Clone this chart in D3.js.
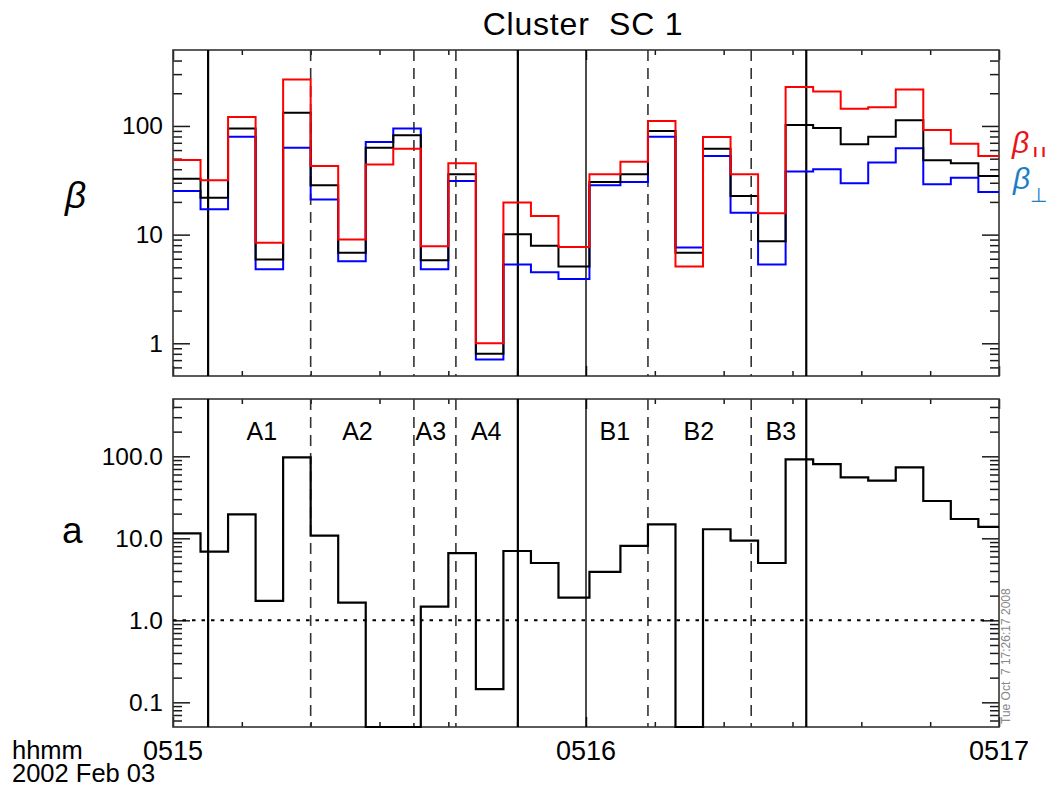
<!DOCTYPE html>
<html>
<head>
<meta charset="utf-8">
<script src="https://cdnjs.cloudflare.com/ajax/libs/d3/7.8.5/d3.min.js"></script>
<style>
  body { margin: 0; background: #fff; }
  svg { display: block; }
  text { font-family: "Liberation Sans", Arial, Helvetica, sans-serif; fill: #000; }
</style>
</head>
<body>
<svg id="chart"></svg>
<script>
// bin start times, seconds after 05:15:00 (4 s spin bins)
var binStarts = [0, 4, 8, 12, 16, 20, 24, 28, 32, 36, 40, 44, 48, 52, 56,
  60.5, 65, 69, 73, 77, 81, 85, 89, 93, 97, 101, 105, 109, 113, 117];
var binEnd = 120;

// plasma beta, parallel / total / perpendicular
var betaPar = [48.6, 31.6, 121, 8.4, 268, 42.8, 9.0, 44.3, 61.8, 7.8, 45.3, 1.0, 19.7, 14.8, 7.7,
  35.9, 46.9, 111, 5.1, 79, 35.9, 15.7, 228, 207, 144, 149, 217, 91.7, 68.7, 52.9];
var betaTot = [32.7, 21.9, 94.5, 5.9, 132, 28.4, 6.8, 63, 82, 5.8, 35.9, 0.80, 10.1, 7.9, 5.1,
  30.5, 35.9, 89.8, 6.8, 61.8, 22.7, 8.7, 102, 95.7, 67.7, 79.7, 113, 48.3, 45.3, 34.6];
var betaPerp = [25.2, 17.1, 79.7, 4.8, 63, 21.1, 5.7, 71.1, 94.5, 4.8, 31.1, 0.71, 5.3, 4.5, 3.9,
  28.4, 30.5, 79.7, 7.6, 52.9, 15.9, 5.3, 38, 39.9, 29.7, 46, 62.2, 29, 33.4, 24.7];

// anisotropy a (bins at 0.05 sit on the axis floor)
var anis = [11.5, 6.9, 19.6, 1.73, 97, 10.8, 1.64, 0.05, 0.05, 1.47, 6.6, 0.145, 7.0, 5.0, 1.89,
  3.9, 8.1, 14.8, 0.05, 12.9, 9.35, 5.0, 92, 80.5, 55.5, 50.4, 73.4, 28.5, 17.2, 13.8];

// interval boundaries (seconds) and their line style
var boundTimes = [5.1, 20, 35, 41.1, 50.1, 60, 69, 84, 92];
var boundStyles = ["solid", "dash", "dash", "dash", "solid", "thin", "dash", "dash", "solid"];

// interval names and their centre times
var intervalNames = ["A1", "A2", "A3", "A4", "B1", "B2", "B3"];
var intervalTimes = [12.9, 26.8, 37.45, 45.5, 64.2, 76.4, 88.3];

// axis ticks
var timeTicks = [0, 60, 120];
var timeLabels = ["0515", "0516", "0517"];
var betaTicks = [1, 10, 100];
var anisTicks = [0.1, 1, 10, 100];

var width = 1058;
var height = 789;

var svg = d3.select("#chart")
  .attr("width", width)
  .attr("height", height);

// shared time scale
var x = d3.scaleLinear().domain([0, 120]).range([173, 999]);

// two stacked log panels
var yTop = d3.scaleLog().domain([0.5, 500]).range([376, 50]);
var yBot = d3.scaleLog().domain([0.05, 500]).range([727, 399]);

// minor log ticks 2..9 inside a domain
function minorTicks(scale) {
  var dom = scale.domain();
  var out = [];
  for (var e = Math.floor(Math.log10(dom[0])); e <= Math.ceil(Math.log10(dom[1])); e++) {
    for (var m = 2; m <= 9; m++) {
      var v = m * Math.pow(10, e);
      if (v > dom[0] * 1.0001 && v < dom[1] * 0.9999) out.push(v);
    }
  }
  return out;
}

function drawPanel(y, majors, fmt) {
  var g = svg.append("g");
  var top = y.range()[1], bottom = y.range()[0];

  // left axis: labels outside, ticks pointing in
  g.append("g")
    .attr("transform", "translate(" + x.range()[0] + ",0)")
    .call(d3.axisLeft(y).tickValues(majors).tickFormat(fmt).tickSize(-17).tickPadding(10))
    .call(function(a) {
      a.select(".domain").remove();
      a.selectAll("text").style("font-size", "24.5px").attr("fill", "#000");
    });
  g.append("g")
    .attr("transform", "translate(" + x.range()[0] + ",0)")
    .call(d3.axisLeft(y).tickValues(minorTicks(y)).tickFormat("").tickSize(-9))
    .call(function(a) { a.select(".domain").remove(); });

  // right axis, ticks only
  g.append("g")
    .attr("transform", "translate(" + x.range()[1] + ",0)")
    .call(d3.axisRight(y).tickValues(majors).tickFormat("").tickSize(-17))
    .call(function(a) { a.select(".domain").remove(); });
  g.append("g")
    .attr("transform", "translate(" + x.range()[1] + ",0)")
    .call(d3.axisRight(y).tickValues(minorTicks(y)).tickFormat("").tickSize(-9))
    .call(function(a) { a.select(".domain").remove(); });

  // time ticks top and bottom, every 10 s
  var minorT = d3.range(10, 120, 10).filter(function(t) { return t !== 60; });
  [[top, d3.axisTop], [bottom, d3.axisBottom]].forEach(function(p) {
    g.append("g")
      .attr("transform", "translate(0," + p[0] + ")")
      .call(p[1](x).tickValues(minorT).tickFormat("").tickSize(-5))
      .call(function(a) { a.select(".domain").remove(); });
    g.append("g")
      .attr("transform", "translate(0," + p[0] + ")")
      .call(p[1](x).tickValues(timeTicks).tickFormat("").tickSize(-10))
      .call(function(a) { a.select(".domain").remove(); });
  });

  g.selectAll(".tick line").attr("stroke", "#1a1a1a").attr("stroke-width", 1.5);

  // frame
  g.append("rect")
    .attr("x", x.range()[0])
    .attr("y", top)
    .attr("width", x.range()[1] - x.range()[0])
    .attr("height", bottom - top)
    .attr("fill", "none")
    .attr("stroke", "#333")
    .attr("stroke-width", 1.6);

  // interval boundaries
  g.selectAll(".bound")
    .data(boundTimes)
    .enter()
    .append("line")
    .attr("x1", function(d) { return x(d); })
    .attr("x2", function(d) { return x(d); })
    .attr("y1", top)
    .attr("y2", bottom)
    .attr("stroke", function(d, i) { return boundStyles[i] === "dash" ? "#333" : "#000"; })
    .attr("stroke-width", function(d, i) {
      var s = boundStyles[i];
      return s === "solid" ? 2.2 : (s === "thin" ? 1.4 : 1.6);
    })
    .attr("stroke-dasharray", function(d, i) { return boundStyles[i] === "dash" ? "11,7" : null; });

  return g;
}

// step line, one bin per value
function stepLine(y, vals) {
  var pts = binStarts.map(function(t, i) { return [t, vals[i]]; });
  pts.push([binEnd, vals[vals.length - 1]]);
  return d3.line()
    .x(function(d) { return x(d[0]); })
    .y(function(d) { return y(d[1]); })
    .curve(d3.curveStepAfter)(pts);
}

// top panel: beta
var gTop = drawPanel(yTop, betaTicks, d3.format("d"));
[[betaPerp, "#0000ff"], [betaTot, "#000000"], [betaPar, "#ff0000"]].forEach(function(s) {
  gTop.append("path")
    .attr("d", stepLine(yTop, s[0]))
    .attr("fill", "none")
    .attr("stroke", s[1])
    .attr("stroke-width", 2);
});

// bottom panel: anisotropy
var gBot = drawPanel(yBot, anisTicks, d3.format(".1f"));

// a = 1 reference
gBot.append("line")
  .attr("x1", x.range()[0])
  .attr("x2", x.range()[1])
  .attr("y1", yBot(1))
  .attr("y2", yBot(1))
  .attr("stroke", "#000")
  .attr("stroke-width", 2)
  .attr("stroke-dasharray", "3.5,6");

gBot.append("path")
  .attr("d", stepLine(yBot, anis))
  .attr("fill", "none")
  .attr("stroke", "#000")
  .attr("stroke-width", 2.2);

// interval names
gBot.selectAll(".iname")
  .data(intervalNames)
  .enter()
  .append("text")
  .attr("x", function(d, i) { return x(intervalTimes[i]); })
  .attr("y", 440)
  .attr("text-anchor", "middle")
  .style("font-size", "25px")
  .text(function(d) { return d; });

// time labels under the bottom panel
svg.selectAll(".tlab")
  .data(timeTicks)
  .enter()
  .append("text")
  .attr("x", function(d) { return x(d); })
  .attr("y", 760)
  .attr("text-anchor", "middle")
  .style("font-size", "27px")
  .text(function(d, i) { return timeLabels[i]; });

svg.append("text")
  .attr("x", 12)
  .attr("y", 759)
  .style("font-size", "25.5px")
  .text("hhmm");

svg.append("text")
  .attr("x", 12)
  .attr("y", 782)
  .style("font-size", "25.5px")
  .text("2002 Feb 03");

// title
svg.append("text")
  .attr("x", 583)
  .attr("y", 35)
  .attr("text-anchor", "middle")
  .attr("xml:space", "preserve")
  .style("font-size", "32px")
  .style("letter-spacing", "0.8px")
  .style("white-space", "pre")
  .text("Cluster  SC 1");

// panel labels
svg.append("text")
  .attr("x", 65)
  .attr("y", 208)
  .style("font-size", "37px")
  .style("font-style", "italic")
  .text("β");

svg.append("text")
  .attr("x", 62)
  .attr("y", 543)
  .style("font-size", "37px")
  .text("a");

// legend at right
var legPar = svg.append("text")
  .attr("x", 1012)
  .attr("y", 153)
  .style("fill", "#e8141c");
legPar.append("tspan").style("font-size", "30px").style("font-style", "italic").text("β");
legPar.append("tspan").attr("dx", 4).attr("dy", 4).style("font-size", "15px").style("font-weight", "bold").text("I I");

var legPerp = svg.append("text")
  .attr("x", 1013)
  .attr("y", 189)
  .style("fill", "#1c7ec4");
legPerp.append("tspan").style("font-size", "30px").style("font-style", "italic").text("β");
legPerp.append("tspan").attr("dx", 0).attr("dy", 13).style("font-size", "20px").text("⊥");

// print time stamp
svg.append("text")
  .attr("transform", "translate(1010,724) rotate(-90)")
  .attr("xml:space", "preserve")
  .style("white-space", "pre")
  .style("font-size", "12px")
  .style("fill", "#888")
  .text("Tue Oct  7 17:26:17 2008");
</script>
</body>
</html>
